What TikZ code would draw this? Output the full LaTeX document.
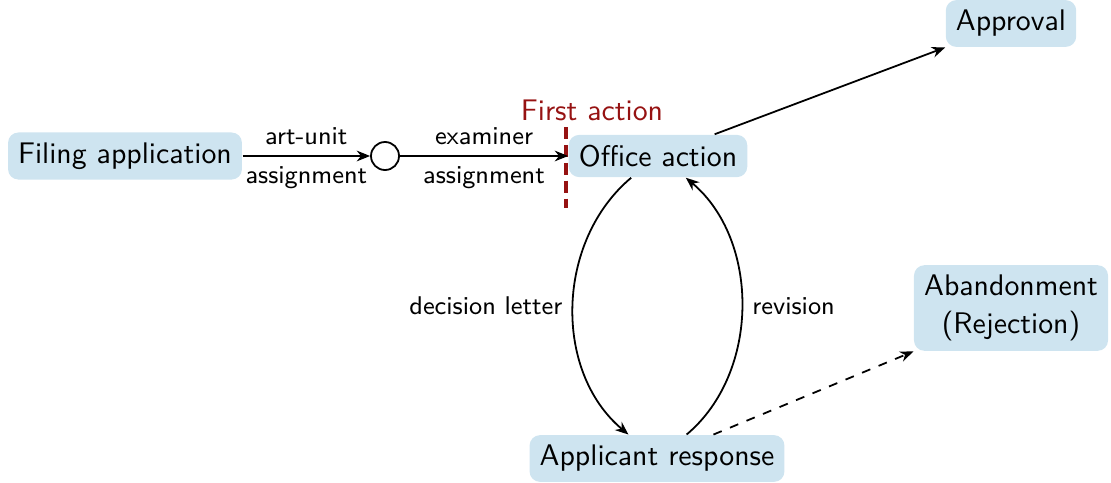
\documentclass[tikz,border=0pt]{standalone}
\usepackage{tikz}
\usetikzlibrary{positioning,arrows.meta}
\definecolor{boxblue}{RGB}{206,228,240}
\definecolor{actred}{RGB}{150,18,18}

\begin{document}
\begin{tikzpicture}[x=0.0118cm,y=0.0118cm,>={Stealth[length=4.5pt,width=3.6pt]},
box/.style={fill=boxblue,rounded corners=3.5pt,inner sep=3.4pt,align=center,font=\sffamily\fontsize{10}{12.5}\selectfont},
lbl/.style={font=\sffamily\fontsize{8.6}{10}\selectfont},
flow/.style={->,semithick}]
\useasboundingbox (0,0) rectangle (1111,482);
\node[box] (fil) at (125,326) {Filing application};
\node[draw,semithick,circle,minimum size=9.4pt,inner sep=0pt] (asg) at (385,326) {};
\node[box] (oa) at (658,326) {Office action};
\node[box] (app) at (1011,458.5) {Approval};
\node[box] (aband) at (1011,174) {Abandonment\\(Rejection)};
\node[box] (resp) at (657,23.5) {Applicant response};
\coordinate (fatop) at (566,355); \coordinate (fabot) at (566,274);
\node[font=\sffamily\fontsize{10}{12}\selectfont,text=actred] (fa) at (592,372) {First action};
\draw[actred,line width=1.3pt,dash pattern=on 4pt off 2pt] (fatop) -- (fabot);
\draw[flow] (fil) -- node[lbl,above]{art-unit} node[lbl,below]{assignment} (asg);
\draw[flow] (asg) -- node[lbl,above]{examiner} node[lbl,below]{assignment} (oa);
\draw[flow] (oa.21) -- (app.south west);
\draw[flow] (oa.-141) to[out=-140,in=140,looseness=0.98] node[lbl,left]{decision letter} (resp.140);
\draw[flow] (resp.39) to[out=40,in=-40,looseness=0.96] node[lbl,right]{revision} (oa.-38);
\draw[flow,dashed] (resp.23) -- (aband.south west);
\end{tikzpicture}
\end{document}
